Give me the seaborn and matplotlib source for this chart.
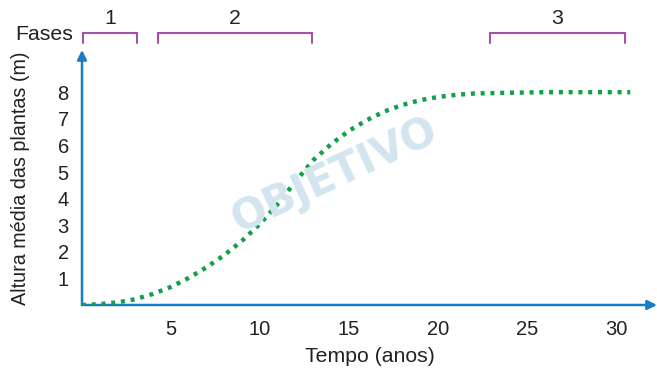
import matplotlib
matplotlib.use("Agg")
import matplotlib.pyplot as plt
import seaborn as sns
import pandas as pd

# Data
tempo = [0, 1, 2, 3, 4, 5, 6, 7, 8, 9, 10, 11, 12, 13, 14, 15, 16, 17, 18, 19, 20, 21, 22, 24, 26, 28, 30.8]
altura = [0, 0.03, 0.1, 0.22, 0.42, 0.68, 1.02, 1.42, 1.88, 2.42, 3.05, 3.8, 4.65, 5.45, 6.05, 6.55, 6.95, 7.28, 7.52, 7.7, 7.82, 7.9, 7.95, 7.98, 8.0, 8.0, 8.0]
xticks = [0, 5, 10, 15, 20, 25, 30]
yticks = [0, 1, 2, 3, 4, 5, 6, 7, 8]
fases_labels = ["1", "2", "3"]
fases_start = [0.05, 4.27, 22.9]
fases_end = [3.1, 12.9, 30.5]

sns.set_style("white")
plt.rcParams['font.family'] = ['Liberation Sans', 'DejaVu Sans']

blue = "#1a7cc6"
green = "#13a04a"
purple = "#a84fa8"
wm = "#d3e5ee"
txt = "#222222"

W, H = 657, 369
fig = plt.figure(figsize=(W / 100, H / 100), dpi=100)
ax = fig.add_axes([82 / W, (H - 305) / H, 575 / W, 255 / H])
ax.set_xlim(0, 575 / 17.8)
ax.set_ylim(0, 255 / 26.6)

# watermark
fig.text(335 / W, 1 - 175 / H, "OBJETIVO", color=wm, fontsize=30, fontweight="bold",
         rotation=25, ha="center", va="center", zorder=0, family="DejaVu Sans")

df = pd.DataFrame({"Tempo": tempo, "Altura": altura})
sns.lineplot(data=df, x="Tempo", y="Altura", ax=ax, color=green, lw=3.2,
             linestyle=(0, (0.9, 1.3)), zorder=3)
for l in ax.lines:
    l.set_dash_capstyle("butt")

for s in ax.spines.values():
    s.set_visible(False)

ax.annotate('', xy=(1, 0), xytext=(0, 0), xycoords='axes fraction',
            arrowprops=dict(arrowstyle='-|>', color=blue, lw=1.8, mutation_scale=14,
                            shrinkA=0, shrinkB=0), zorder=2)
ax.annotate('', xy=(0, 1), xytext=(0, 0), xycoords='axes fraction',
            arrowprops=dict(arrowstyle='-|>', color=blue, lw=1.8, mutation_scale=14,
                            shrinkA=0, shrinkB=0), zorder=2)

ax.set_xticks(xticks, labels=[""] + [str(v) for v in xticks[1:]])
ax.set_yticks(yticks, labels=[""] + [str(v) for v in yticks[1:]])
ax.tick_params(axis="both", direction="inout", length=7, width=1.3, colors="red",
               labelcolor=txt, labelsize=14.5)
ax.tick_params(axis="x", pad=7)
ax.tick_params(axis="y", pad=6)
ax.set_xlabel("Tempo (anos)", fontsize=15.3, color=txt, labelpad=6)
ax.set_ylabel("Altura média das plantas (m)", fontsize=14.2, color=txt)
ax.yaxis.set_label_coords((30 - 82) / 575, (305 - 178) / 255)

# Fases brackets
tr = ax.get_xaxis_transform()
y_line = (305 - 33) / 255
y_low = (305 - 43) / 255
y_lab = (305 - 19) / 255
for lab, a, b in zip(fases_labels, fases_start, fases_end):
    ax.plot([a, a, b, b], [y_low, y_line, y_line, y_low], transform=tr, color=purple,
            lw=1.5, clip_on=False, solid_joinstyle="miter")
    ax.text((a + b) / 2, y_lab, lab, transform=tr, ha="center", va="center",
            fontsize=15.3, color=txt, clip_on=False)
fig.text(44 / W, 1 - 34 / H, "Fases", ha="center", va="center", fontsize=15.3, color=txt)

fig.savefig("out.png", dpi=100)
